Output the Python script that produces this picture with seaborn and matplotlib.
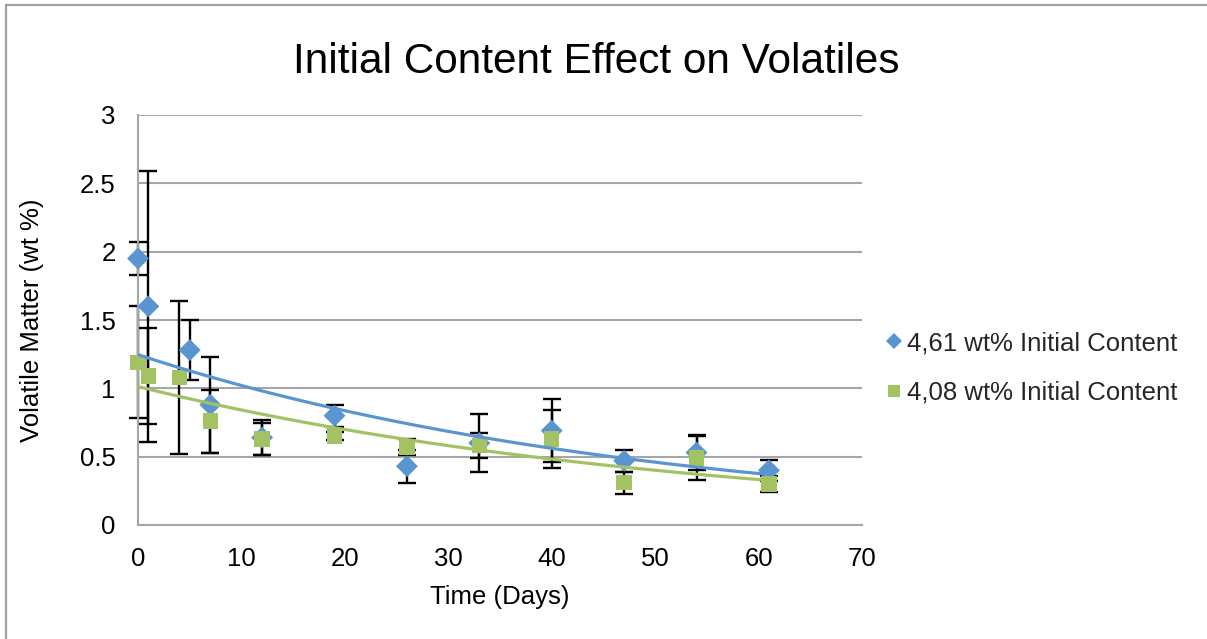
import numpy as np
import pandas as pd
import matplotlib
matplotlib.use("Agg")
import matplotlib.pyplot as plt
from matplotlib.lines import Line2D
import seaborn as sns

# ---- data ----
days_a = [0, 1, 5, 7, 12, 19, 26, 33, 40, 47, 54, 61]
vm_a = [1.95, 1.60, 1.28, 0.88, 0.64, 0.80, 0.43, 0.60, 0.69, 0.47, 0.53, 0.40]
err_a = [0.12, 0.99, 0.22, 0.35, 0.13, 0.08, 0.12, 0.21, 0.23, 0.08, 0.13, 0.075]

days_b = [0, 1, 4, 7, 12, 19, 26, 33, 40, 47, 54, 61]
vm_b = [1.19, 1.09, 1.08, 0.76, 0.63, 0.65, 0.57, 0.58, 0.63, 0.31, 0.49, 0.30]
err_b = [0.41, 0.35, 0.56, 0.23, 0.12, 0.03, 0.06, 0.09, 0.21, 0.08, 0.16, 0.06]

label_a = "4,61 wt% Initial Content"
label_b = "4,08 wt% Initial Content"
title = "Initial Content Effect on Volatiles"
xlabel = "Time (Days)"
ylabel = "Volatile Matter (wt %)"
xticks = [0, 10, 20, 30, 40, 50, 60, 70]
yticks = [0, 0.5, 1, 1.5, 2, 2.5, 3]
ytick_labels = ["0", "0.5", "1", "1.5", "2", "2.5", "3"]

col_a = "#5B95D1"
col_b = "#A3C264"

sns.set_theme(style="white")
plt.rcParams["font.family"] = ["Liberation Sans", "DejaVu Sans"]

df = pd.concat([
    pd.DataFrame({"day": days_a, "vm": vm_a, "err": err_a, "series": label_a}),
    pd.DataFrame({"day": days_b, "vm": vm_b, "err": err_b, "series": label_b}),
], ignore_index=True)

# exponential trendlines (least squares on log values, as a spreadsheet does)
trend_rows = []
for lab, g in df.groupby("series", sort=False):
    k, c = np.polyfit(g["day"], np.log(g["vm"]), 1)
    xs = np.linspace(g["day"].min(), g["day"].max(), 200)
    trend_rows.append(pd.DataFrame({"day": xs, "vm": np.exp(c) * np.exp(k * xs), "series": lab}))
trend = pd.concat(trend_rows, ignore_index=True)

W, H = 1207, 639
fig = plt.figure(figsize=(W / 100, H / 100), dpi=100)
ax = fig.add_axes([138 / W, 1 - 525 / H, (862 - 138) / W, (525 - 115) / H])

# error bars
for lab in [label_a, label_b]:
    g = df[df["series"] == lab]
    eb = ax.errorbar(g["day"], g["vm"], yerr=g["err"], fmt="none", ecolor="black",
                     elinewidth=1.7, capsize=6.3, capthick=1.7, zorder=2)
    for art in eb.lines[1]:
        art.set_clip_on(False)
    for art in eb.lines[2]:
        art.set_clip_on(False)

# markers
sns.scatterplot(data=df, x="day", y="vm", hue="series", style="series",
                palette={label_a: col_a, label_b: col_b},
                markers={label_a: "D", label_b: "s"},
                s=125, edgecolor="none", linewidth=0,
                legend=False, ax=ax, zorder=3)
for coll in ax.collections:
    coll.set_clip_on(False)

# trendlines
sns.lineplot(data=trend, x="day", y="vm", hue="series",
             palette={label_a: col_a, label_b: col_b},
             linewidth=2.3, legend=False, ax=ax, zorder=4)

ax.set_xlim(0, 70)
ax.set_ylim(0, 3)
ax.set_xticks(xticks)
ax.set_yticks(yticks)
ax.set_yticklabels(ytick_labels)
ax.tick_params(axis="both", labelsize=18.5, length=0, colors="black")
ax.tick_params(axis="x", pad=16)
ax.tick_params(axis="y", pad=16)
ax.yaxis.grid(True, color="#A6A6A6", linewidth=1.5)
ax.xaxis.grid(False)
for s in ["top", "right"]:
    ax.spines[s].set_visible(False)
for s in ["left", "bottom"]:
    ax.spines[s].set_color("#A6A6A6")
    ax.spines[s].set_linewidth(1.5)
ax.set_axisbelow(True)
ax.set_xlabel(xlabel, fontsize=18.5, labelpad=10, color="black")
ax.set_ylabel(ylabel, fontsize=18.5, labelpad=26, color="black")

fig.text(596 / W, 1 - 62 / H, title, fontsize=30.5, ha="center", va="center", color="black")

handles = [
    Line2D([], [], linestyle="none", marker="D", markersize=8.5, color=col_a, markeredgewidth=0),
    Line2D([], [], linestyle="none", marker="s", markersize=8.5, color=col_b, markeredgewidth=0),
]
fig.legend(handles, [label_a, label_b], loc="center left",
           bbox_to_anchor=(872 / W, 1 - 368 / H), frameon=False, fontsize=18.5,
           handlelength=0.7, handletextpad=0.15, labelspacing=0.98, borderpad=0)

# chart area border
fig.add_artist(Line2D([6 / W, 6 / W], [0, 1 - 4.5 / H], transform=fig.transFigure,
                      color="#A0A0A0", linewidth=1.6))
fig.add_artist(Line2D([6 / W, 1], [1 - 4.5 / H, 1 - 4.5 / H], transform=fig.transFigure,
                      color="#A0A0A0", linewidth=1.6))

fig.savefig("out.png", dpi=100)
